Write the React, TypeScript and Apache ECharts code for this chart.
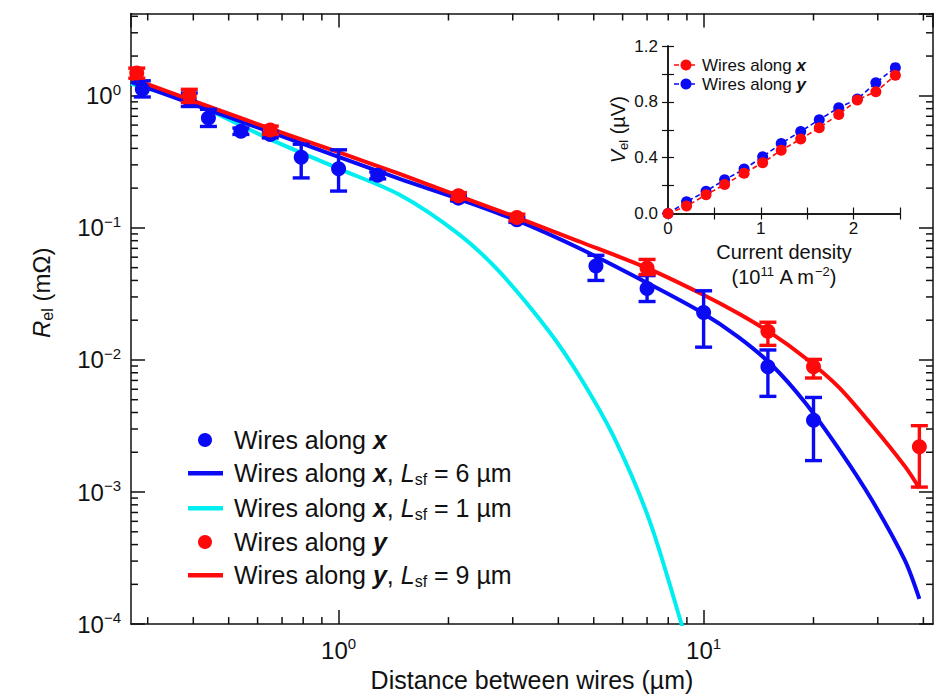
import React, { useEffect, useRef } from "react";
import * as echarts from "echarts";

const FONT = "'Liberation Sans', Arial, Helvetica, sans-serif";
const BLUE = "#0a0af5";
const RED = "#ff0a0a";
const CYAN = "#00eef0";

// ---------- main panel: measured points (blue = wires along x) ----------
const blueDist = [0.29, 0.39, 0.44, 0.54, 0.65, 0.79, 1.0, 1.28, 2.13, 3.08, 5.07, 7.0, 10.0, 15.0, 20.0];
const blueR = [1.12, 0.93, 0.68, 0.54, 0.51, 0.343, 0.28, 0.25, 0.168, 0.115, 0.0515, 0.0348, 0.0229, 0.0089, 0.0035];
const blueLow = [0.98, 0.83, 0.586, 0.51, 0.48, 0.239, 0.19, 0.235, 0.16, 0.11, 0.04, 0.0277, 0.0125, 0.0053, 0.00173];
const blueHigh = [1.3, 1.05, 0.79, 0.57, 0.54, 0.43, 0.39, 0.265, 0.175, 0.12, 0.062, 0.0435, 0.0334, 0.0119, 0.0052];

// red = wires along y
const redDist = [0.28, 0.39, 0.65, 2.13, 3.08, 7.0, 15.0, 20.0, 39.0];
const redR = [1.49, 1.0, 0.55, 0.175, 0.12, 0.0497, 0.0165, 0.0089, 0.0022];
const redLow = [1.36, 0.89, 0.51, 0.165, 0.113, 0.0443, 0.0129, 0.0073, 0.00109];
const redHigh = [1.62, 1.12, 0.59, 0.185, 0.127, 0.0577, 0.0193, 0.0101, 0.00318];

// fitted curves
const fitDist = [0.27, 0.57, 1.0, 1.47, 2.13, 3.08, 4.55, 6.98, 9.88, 12.46, 15.34, 18.96, 23.38, 28.77, 35.57, 39.0];
const fitBlue6 = [1.273, 0.606, 0.345, 0.235, 0.166, 0.114, 0.0704, 0.0385, 0.0229, 0.0149, 0.0092, 0.00477, 0.00215, 0.000888, 0.000305, 0.000155];
const fitRed9 = [1.364, 0.642, 0.374, 0.256, 0.175, 0.12, 0.0792, 0.0498, 0.0316, 0.0225, 0.0159, 0.0104, 0.00628, 0.00326, 0.00157, 0.00107];
const cyanDist = [0.27, 0.39, 0.65, 1.0, 1.47, 2.13, 2.75, 3.77, 4.66, 5.75, 7.12, 8.7, 9.0];
const fitCyan1 = [1.23, 0.902, 0.468, 0.281, 0.178, 0.09, 0.047, 0.0165, 0.0069, 0.00243, 0.0006, 0.0001, 0.00007];

// minor tick values
const xMinorTicks = [0.3, 0.4, 0.5, 0.6, 0.7, 0.8, 0.9, 2, 3, 4, 5, 6, 7, 8, 9, 20, 30, 40];
const yMinorTicks = [
  0.0002, 0.0003, 0.0004, 0.0005, 0.0006, 0.0007, 0.0008, 0.0009,
  0.002, 0.003, 0.004, 0.005, 0.006, 0.007, 0.008, 0.009,
  0.02, 0.03, 0.04, 0.05, 0.06, 0.07, 0.08, 0.09,
  0.2, 0.3, 0.4, 0.5, 0.6, 0.7, 0.8, 0.9,
  2, 3, 4,
];

// ---------- inset ----------
const jInset = [0, 0.2, 0.41, 0.61, 0.82, 1.02, 1.22, 1.43, 1.63, 1.84, 2.04, 2.24, 2.45];
const vInsetX = [0, 0.053, 0.134, 0.208, 0.289, 0.363, 0.454, 0.533, 0.614, 0.71, 0.813, 0.873, 0.99];
const vInsetY = [0, 0.084, 0.16, 0.241, 0.318, 0.406, 0.502, 0.588, 0.672, 0.758, 0.82, 0.937, 1.045];

const zip = (a: number[], b: number[]) => a.map((v, i) => [v, b[i]]);

function powLabel(v: number) {
  const l = Math.log10(v);
  const e = Math.round(l);
  if (Math.abs(l - e) > 1e-6) return "";
  const s = e < 0 ? "\u2212" + -e : String(e);
  return `{b|10}{s|${s}}`;
}

const tickRich = {
  b: { fontSize: 24, fontFamily: FONT, color: "#111", lineHeight: 28 },
  s: { fontSize: 15, fontFamily: FONT, color: "#111", lineHeight: 15, verticalAlign: "top" },
};

function errorBarSeries(dist: number[], lo: number[], hi: number[], color: string, z: number) {
  return {
    type: "custom",
    xAxisIndex: 0,
    yAxisIndex: 0,
    z,
    silent: true,
    data: dist.map((d, i) => [d, lo[i], hi[i]]),
    encode: { x: 0, y: [1, 2] },
    renderItem: (params: any, api: any) => {
      const x = api.value(0);
      const pLo = api.coord([x, api.value(1)]);
      const pHi = api.coord([x, api.value(2)]);
      const hw = 8.5;
      const st = { stroke: color, lineWidth: 3.4 };
      return {
        type: "group",
        children: [
          { type: "line", shape: { x1: pLo[0], y1: pLo[1], x2: pHi[0], y2: pHi[1] }, style: st },
          { type: "line", shape: { x1: pLo[0] - hw, y1: pLo[1], x2: pLo[0] + hw, y2: pLo[1] }, style: st },
          { type: "line", shape: { x1: pHi[0] - hw, y1: pHi[1], x2: pHi[0] + hw, y2: pHi[1] }, style: st },
        ],
      };
    },
  };
}

function minorTickSeries(values: number[], dir: "x" | "y") {
  return {
    type: "custom",
    xAxisIndex: 0,
    yAxisIndex: 0,
    z: 20,
    silent: true,
    clip: false,
    data: values.map((v) => (dir === "x" ? [v, 1] : [1, v])),
    renderItem: (params: any, api: any) => {
      const r = params.coordSys;
      const p = api.coord([api.value(0), api.value(1)]);
      const st = { stroke: "#111", lineWidth: 1.5 };
      const L = 7;
      if (dir === "x") {
        return {
          type: "group",
          children: [
            { type: "line", shape: { x1: p[0], y1: r.y + r.height, x2: p[0], y2: r.y + r.height - L }, style: st },
            { type: "line", shape: { x1: p[0], y1: r.y, x2: p[0], y2: r.y + L }, style: st },
          ],
        };
      }
      return {
        type: "group",
        children: [
          { type: "line", shape: { x1: r.x, y1: p[1], x2: r.x + L, y2: p[1] }, style: st },
          { type: "line", shape: { x1: r.x + r.width, y1: p[1], x2: r.x + r.width - L, y2: p[1] }, style: st },
        ],
      };
    },
  };
}

const axisLineStyle = { lineStyle: { color: "#111", width: 1.5 } };

const LF = 25;
const legendRich = {
  bx: { fontSize: LF, fontFamily: FONT, fontWeight: "bold", fontStyle: "italic", fill: "#111", lineHeight: 28 },
  it: { fontSize: LF, fontFamily: FONT, fontStyle: "italic", fill: "#111", lineHeight: 28 },
  sub: { fontSize: 16, fontFamily: FONT, fill: "#111", lineHeight: 16, verticalAlign: "bottom" },
};

function legendText(text: string, x: number, y: number) {
  return {
    type: "text",
    x,
    y,
    z: 100,
    style: {
      text,
      fontSize: LF,
      fontFamily: FONT,
      fill: "#111",
      lineHeight: 28,
      verticalAlign: "middle",
      align: "left",
      rich: legendRich,
    },
  };
}

const insetRich = {
  bx: { fontSize: 17, fontFamily: FONT, fontWeight: "bold", fontStyle: "italic", fill: "#111", lineHeight: 20 },
};

function insetLegendText(text: string, x: number, y: number) {
  return {
    type: "text",
    x,
    y,
    z: 100,
    style: {
      text,
      fontSize: 17,
      fontFamily: FONT,
      fill: "#111",
      lineHeight: 20,
      verticalAlign: "middle",
      align: "left",
      rich: insetRich,
    },
  };
}

const option: any = {
  animation: false,
  backgroundColor: "#fff",
  grid: [
    { left: 131, top: 13.5, width: 802, height: 616.5 },
    { left: 668, top: 46, width: 232, height: 167.5 },
  ],
  xAxis: [
    {
      type: "log",
      logBase: 10,
      gridIndex: 0,
      min: 0.27,
      max: 42.5,
      position: "bottom",
      axisLine: axisLineStyle,
      axisTick: { inside: true, length: 14, lineStyle: { color: "#111", width: 1.5 } },
      splitLine: { show: false },
      axisLabel: { formatter: powLabel, rich: tickRich, margin: 12, showMinLabel: false, showMaxLabel: false },
      name: "Distance between wires (\u00b5m)",
      nameLocation: "middle",
      nameGap: 42,
      nameTextStyle: { fontSize: 25, fontFamily: FONT, color: "#111" },
    },
    {
      type: "log",
      logBase: 10,
      gridIndex: 0,
      min: 0.27,
      max: 42.5,
      position: "top",
      axisLine: axisLineStyle,
      axisTick: { inside: true, length: 14, lineStyle: { color: "#111", width: 1.5 } },
      splitLine: { show: false },
      axisLabel: { show: false },
    },
    {
      type: "value",
      gridIndex: 1,
      min: 0,
      max: 2.5,
      interval: 0.5,
      position: "bottom",
      axisLine: axisLineStyle,
      axisTick: { inside: true, length: 6, lineStyle: { color: "#111", width: 1.2 } },
      splitLine: { show: false },
      axisLabel: {
        fontSize: 17,
        fontFamily: FONT,
        color: "#111",
        margin: 6,
        formatter: (v: number) => (Math.abs(v - Math.round(v)) < 1e-6 ? String(Math.round(v)) : ""),
      },
      name: "Current density\n({n|10}{s|11}{n| A m}{s|\u22122}{n|)}",
      nameLocation: "middle",
      nameGap: 26,
      nameTextStyle: {
        fontSize: 20,
        fontFamily: FONT,
        color: "#111",
        lineHeight: 25,
        rich: {
          n: { fontSize: 20, fontFamily: FONT, color: "#111", lineHeight: 25 },
          s: { fontSize: 13, fontFamily: FONT, color: "#111", lineHeight: 13, verticalAlign: "top" },
        },
      },
    },
    {
      type: "value",
      gridIndex: 1,
      min: 0,
      max: 2.5,
      interval: 0.5,
      position: "top",
      axisLine: axisLineStyle,
      axisTick: { inside: true, length: 6, lineStyle: { color: "#111", width: 1.2 } },
      splitLine: { show: false },
      axisLabel: { show: false },
    },
  ],
  yAxis: [
    {
      type: "log",
      logBase: 10,
      gridIndex: 0,
      min: 0.0001,
      max: 4.2,
      position: "left",
      axisLine: axisLineStyle,
      axisTick: { inside: true, length: 14, lineStyle: { color: "#111", width: 1.5 } },
      splitLine: { show: false },
      axisLabel: { formatter: powLabel, rich: tickRich, margin: 10, showMaxLabel: false },
      name: "{i|R}{sub|el}{n| (m\u03a9)}",
      nameLocation: "middle",
      nameRotate: 90,
      nameGap: 76,
      nameTextStyle: {
        padding: [0, 0, 0, 52],
        rich: {
          i: { fontSize: 24, fontFamily: FONT, fontStyle: "italic", color: "#111", lineHeight: 28 },
          n: { fontSize: 24, fontFamily: FONT, color: "#111", lineHeight: 28 },
          sub: { fontSize: 16, fontFamily: FONT, color: "#111", lineHeight: 16, verticalAlign: "bottom" },
        },
      },
    },
    {
      type: "log",
      logBase: 10,
      gridIndex: 0,
      min: 0.0001,
      max: 4.2,
      position: "right",
      axisLine: axisLineStyle,
      axisTick: { inside: true, length: 14, lineStyle: { color: "#111", width: 1.5 } },
      splitLine: { show: false },
      axisLabel: { show: false },
    },
    {
      type: "value",
      gridIndex: 1,
      min: 0,
      max: 1.2,
      interval: 0.2,
      position: "left",
      axisLine: axisLineStyle,
      axisTick: { inside: true, length: 6, lineStyle: { color: "#111", width: 1.2 } },
      splitLine: { show: false },
      axisLabel: {
        fontSize: 17,
        fontFamily: FONT,
        color: "#111",
        margin: 10,
        formatter: (v: number) => (Math.round(v * 10) % 4 === 0 ? v.toFixed(1) : ""),
      },
      name: "{i|V}{sub|el}{n| (\u00b5V)}",
      nameLocation: "middle",
      nameRotate: 90,
      nameGap: 26,
      nameTextStyle: {
        rich: {
          i: { fontSize: 20, fontFamily: FONT, fontStyle: "italic", color: "#111", lineHeight: 24 },
          n: { fontSize: 20, fontFamily: FONT, color: "#111", lineHeight: 24 },
          sub: { fontSize: 13, fontFamily: FONT, color: "#111", lineHeight: 13, verticalAlign: "bottom" },
        },
      },
    },
    {
      type: "value",
      gridIndex: 1,
      min: 0,
      max: 1.2,
      interval: 0.2,
      position: "right",
      axisLine: axisLineStyle,
      axisTick: { inside: true, length: 6, lineStyle: { color: "#111", width: 1.2 } },
      splitLine: { show: false },
      axisLabel: { show: false },
    },
  ],
  series: [
    {
      name: "Wires along x, Lsf = 1 µm",
      type: "line",
      xAxisIndex: 0,
      yAxisIndex: 0,
      data: zip(cyanDist, fitCyan1),
      smooth: 0.3,
      symbol: "none",
      lineStyle: { color: CYAN, width: 4 },
      z: 2,
    },
    {
      name: "Wires along x, Lsf = 6 µm",
      type: "line",
      xAxisIndex: 0,
      yAxisIndex: 0,
      data: zip(fitDist, fitBlue6),
      smooth: 0.3,
      symbol: "none",
      lineStyle: { color: BLUE, width: 4 },
      z: 3,
    },
    {
      name: "Wires along y, Lsf = 9 µm",
      type: "line",
      xAxisIndex: 0,
      yAxisIndex: 0,
      data: zip(fitDist, fitRed9),
      smooth: 0.3,
      symbol: "none",
      lineStyle: { color: RED, width: 4 },
      z: 4,
    },
    errorBarSeries(blueDist, blueLow, blueHigh, BLUE, 5),
    {
      name: "Wires along x",
      type: "scatter",
      xAxisIndex: 0,
      yAxisIndex: 0,
      data: zip(blueDist, blueR),
      symbol: "circle",
      symbolSize: 15,
      itemStyle: { color: BLUE, opacity: 1 },
      z: 6,
    },
    errorBarSeries(redDist, redLow, redHigh, RED, 7),
    {
      name: "Wires along y",
      type: "scatter",
      xAxisIndex: 0,
      yAxisIndex: 0,
      data: zip(redDist, redR),
      symbol: "circle",
      symbolSize: 15,
      itemStyle: { color: RED, opacity: 1 },
      z: 8,
    },
    minorTickSeries(xMinorTicks, "x"),
    minorTickSeries(yMinorTicks, "y"),
    {
      name: "Inset: wires along y",
      type: "line",
      xAxisIndex: 2,
      yAxisIndex: 2,
      data: zip(jInset, vInsetY),
      symbol: "circle",
      symbolSize: 11,
      itemStyle: { color: BLUE, opacity: 1 },
      lineStyle: { color: BLUE, width: 1.6, type: [5, 3] },
      z: 5,
    },
    {
      name: "Inset: wires along x",
      type: "line",
      xAxisIndex: 2,
      yAxisIndex: 2,
      data: zip(jInset, vInsetX),
      symbol: "circle",
      symbolSize: 11,
      itemStyle: { color: RED, opacity: 1 },
      lineStyle: { color: RED, width: 1.6, type: [5, 3] },
      z: 6,
    },
  ],
  graphic: [
    // main legend
    { type: "circle", shape: { cx: 205, cy: 440, r: 7 }, style: { fill: BLUE }, z: 100 },
    legendText("Wires along {bx|x}", 234, 440),
    { type: "rect", shape: { x: 188, y: 471, width: 35, height: 4.5 }, style: { fill: BLUE }, z: 100 },
    legendText("Wires along {bx|x}, {it|L}{sub|sf} = 6 \u00b5m", 234, 473),
    { type: "rect", shape: { x: 188, y: 506, width: 35, height: 4.5 }, style: { fill: CYAN }, z: 100 },
    legendText("Wires along {bx|x}, {it|L}{sub|sf} = 1 \u00b5m", 234, 508),
    { type: "circle", shape: { cx: 205, cy: 542, r: 7 }, style: { fill: RED }, z: 100 },
    legendText("Wires along {bx|y}", 234, 542),
    { type: "rect", shape: { x: 188, y: 573, width: 35, height: 4.5 }, style: { fill: RED }, z: 100 },
    legendText("Wires along {bx|y}, {it|L}{sub|sf} = 9 \u00b5m", 234, 575),
    // inset legend
    { type: "line", shape: { x1: 674, y1: 65, x2: 698, y2: 65 }, style: { stroke: RED, lineWidth: 1.6, lineDash: [5, 3] }, z: 100 },
    { type: "circle", shape: { cx: 686, cy: 65, r: 5.5 }, style: { fill: RED }, z: 101 },
    insetLegendText("Wires along {bx|x}", 702, 65),
    { type: "line", shape: { x1: 674, y1: 84, x2: 698, y2: 84 }, style: { stroke: BLUE, lineWidth: 1.6, lineDash: [5, 3] }, z: 100 },
    { type: "circle", shape: { cx: 686, cy: 84, r: 5.5 }, style: { fill: BLUE }, z: 101 },
    insetLegendText("Wires along {bx|y}", 702, 84),
  ],
};

export default function App() {
  const ref = useRef<HTMLDivElement>(null);
  useEffect(() => {
    if (!ref.current) return;
    const chart = echarts.init(ref.current, null, { renderer: "svg" });
    chart.setOption(option);
    return () => chart.dispose();
  }, []);
  return (
    <div
      ref={ref}
      style={{ position: "absolute", left: 0, top: 0, width: 941, height: 697, background: "#fff" }}
    />
  );
}
